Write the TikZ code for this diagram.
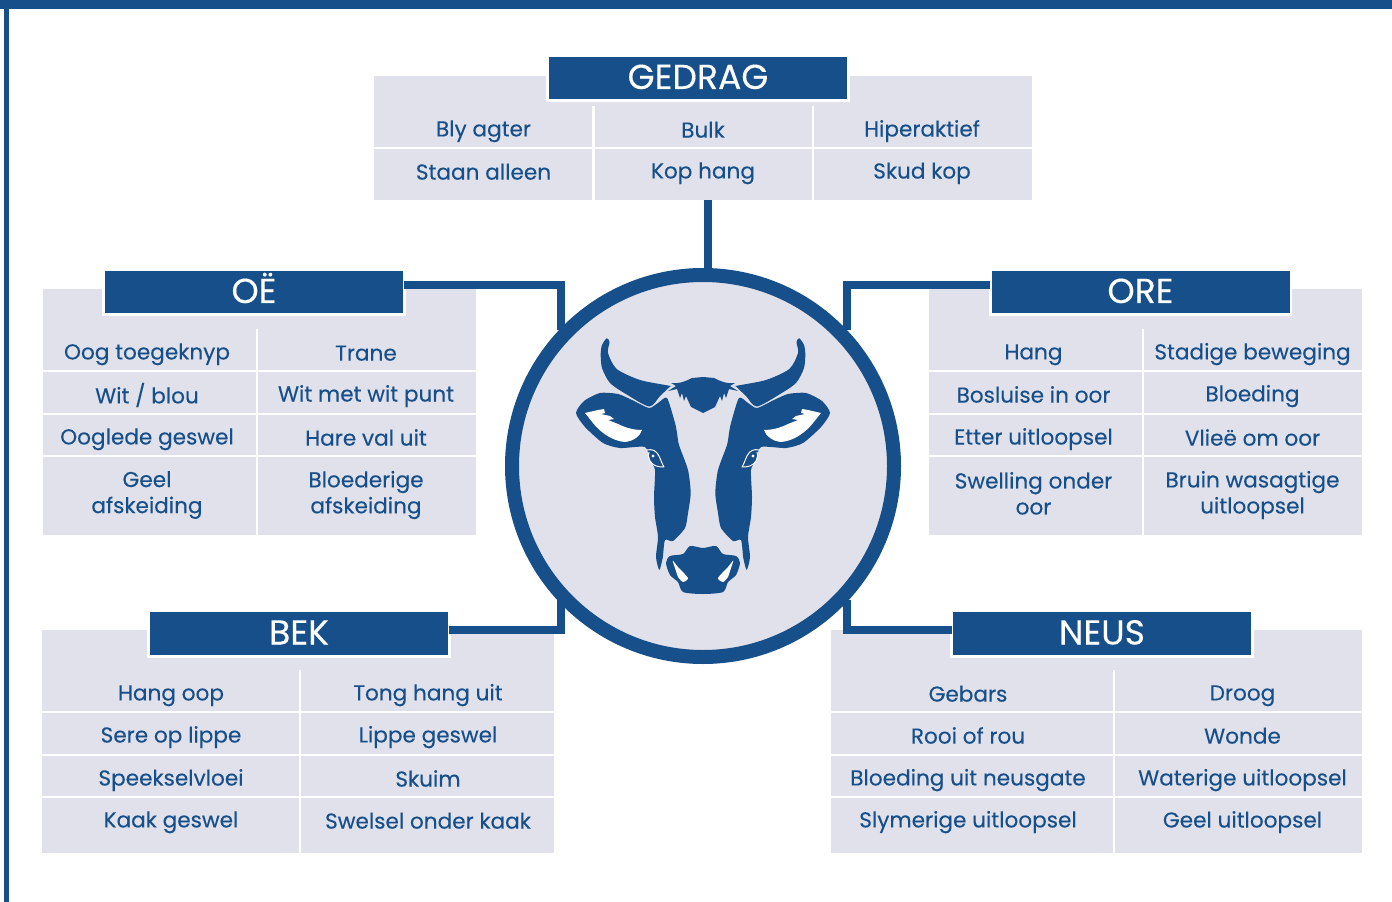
\documentclass[tikz,border=0pt]{standalone}
\usepackage{fontspec}
\setmainfont{Poppins}[FakeBold=0.25]
\definecolor{cowblue}{HTML}{174F8A}
\definecolor{panel}{HTML}{E1E1EC}
\tikzset{
  x=0.75pt,y=-0.75pt,
  panelbox/.style={fill=panel,draw=none,inner sep=0,outer sep=0},
  headbox/.style={fill=cowblue,draw=white,line width=2.2pt,inner sep=0,outer sep=0,minimum width=225.7pt,minimum height=34pt,text=white,font=\fontsize{26}{28}\selectfont,text height=16.5pt,text depth=0pt},
  cell/.style={text=cowblue,align=center,inner sep=0,font=\fontsize{16.2}{19.5}\selectfont,
    execute at begin node={\rule{0pt}{14pt}},execute at end node={\rule[-2.6pt]{0pt}{2.6pt}}},
  sep/.style={draw=white,line width=2.2pt},
  link/.style={draw=cowblue,line width=6pt},
  cowshape/.style={fill=cowblue,draw=none},
  cowwhite/.style={fill=white,draw=none},
}
\newcommand{\cowhalf}{%
  % horn
  \path[cowshape] plot[smooth cycle,tension=0.45] coordinates {(606.7,338.3)(609.5,342)(608,353)(616.7,369)(640,380)(669,385.7)(670,386.5)(660,396)(649.3,406.5)(626.7,394.5)(610,383)(602,368)(600.7,354)(602,345)};
  % ear and side of the face
  \path[cowshape] plot[smooth cycle,tension=0.4] coordinates {(649,408)(632,400)(618,394)(600,393)(584,401)(576,413)(585,427)(603,443)(620,448)(645,447)(650,460)(655,470)(654,497)(655,517)(658,537)(656,557)(659.3,570)(662.7,558)(665,540)(673,541)(685,528)(688,513)(690.7,493)(688,470)(679,445)(677,433)(675,423)(667,398)(658,403)};
  % white of the ear
  \path[cowwhite,line join=round] (585,413) -- (598,410) -- (604,409) -- (605,413) -- (601,414) -- (610,416) -- (614,419) -- (608,420) -- (618,424) .. controls (626,428) and (634,430) .. (642,430) .. controls (640,436) and (634,441) .. (625,442) .. controls (612,441) and (600,432) .. (593,423) -- cycle;
  % eye
  \draw[white,line width=0.75pt,line join=round] (646.7,450) .. controls (652,449) and (656,450) .. (659,456) .. controls (661,460) and (662,464) .. (664,467) .. controls (658,467) and (653,466) .. (650,461) .. controls (648,457) and (648,454) .. (649,452);
  \fill[white] (653,456) circle (1.6);
  % forelock
  \path[cowshape,line join=round] (703,377) -- (692,378) .. controls (686,381) and (680,384) .. (671,383) -- (676,386) -- (668,391) -- (677,389) -- (680,398) -- (682,393) -- (684,401) -- (686,396) -- (691,407) -- (703,413) -- cycle;
}
\begin{document}
\begin{tikzpicture}
\useasboundingbox (0,0) rectangle (1392,902);
\fill[white] (0,0) rectangle (1392,902);
% page edge
\fill[cowblue] (0,0) rectangle (1392,9);
\fill[cowblue] (3.5,9) rectangle (9,902);

% panels
\node[panelbox,minimum width=493.5pt,minimum height=93pt] (gedragpanel) at (703,138) {};
\node[panelbox,minimum width=324.75pt,minimum height=184.5pt] (oepanel) at (259.5,412) {};
\node[panelbox,minimum width=324.75pt,minimum height=184.5pt] (orepanel) at (1145.5,412) {};
\node[panelbox,minimum width=384pt,minimum height=167.25pt] (bekpanel) at (298,741.5) {};
\node[panelbox,minimum width=398.25pt,minimum height=167.25pt] (neuspanel) at (1096.5,741.5) {};

% separators
\draw[sep] (374,148) -- (1032,148) (593.5,106) -- (593.5,200) (813,106) -- (813,200);
\draw[sep] (43,371) -- (476,371) (43,414) -- (476,414) (43,456) -- (476,456) (257,329) -- (257,535);
\draw[sep] (929,371) -- (1362,371) (929,414) -- (1362,414) (929,456) -- (1362,456) (1143,329) -- (1143,535);
\draw[sep] (42,712) -- (554,712) (42,755) -- (554,755) (42,797) -- (554,797) (300,670) -- (300,853);
\draw[sep] (831,712) -- (1362,712) (831,755) -- (1362,755) (831,797) -- (1362,797) (1114,670) -- (1114,853);

% connectors' end points on the medallion
\coordinate (jointop) at (708,275);
\coordinate (jointoe) at (561,330);
\coordinate (jointore) at (847,330);
\coordinate (jointbek) at (561,600);
\coordinate (jointneus) at (847,600);

% headers
\node[headbox] (gedrag) at (698,78) {GEDRAG};
\node[headbox] (oe) at (254,292) {OË};
\node[headbox] (ore) at (1140.5,292) {ORE};
\node[headbox] (bek) at (299,633.5) {BEK};
\node[headbox] (neus) at (1102,633.5) {NEUS};

% connectors
\draw[link] (gedragpanel.south -| jointop) -- (jointop);
\draw[link] ([yshift=5.25pt]oe.east) -| (jointoe);
\draw[link] ([yshift=5.25pt]ore.west) -| (jointore);
\draw[link] ([yshift=3pt]bek.east) -| (jointbek);
\draw[link] ([yshift=3pt]neus.west) -| (jointneus);

% medallion
\node[circle,fill=panel,draw=cowblue,line width=10.5pt,minimum size=286.5pt,inner sep=0,outer sep=0] (cow) at (703,466) {};

% cow
\cowhalf
\begin{scope}[shift={(703,0)},xscale=-1,shift={(-703,0)}]
\cowhalf
\end{scope}
\path[cowshape] plot[smooth cycle,tension=0.45] coordinates {(703,548)(690,546)(683,554)(670,556)(666,563)(670,575)(678,582)(683,592)(703,594)(723,592)(728,582)(736,575)(740,563)(736,556)(723,554)(716,546)};
\path[cowwhite] plot[smooth cycle,tension=0.4] coordinates {(672.7,560.7)(678,567)(688,578)(683,582)(678,577)(676,571)};
\path[cowwhite] plot[smooth cycle,tension=0.4] coordinates {(733.3,560.7)(728,567)(718,578)(723,582)(728,577)(730,571)};

% GEDRAG
\node[cell] (g1) at (483.5,130) {Bly agter};
\node[cell] (g2) at (703,130) {Bulk};
\node[cell] (g3) at (922,130) {Hiperaktief};
\node[cell] (g4) at (483.5,172) {Staan alleen};
\node[cell] (g5) at (703,172) {Kop hang};
\node[cell] (g6) at (922,172) {Skud kop};
% OË
\node[cell] (o1) at (147,353) {Oog toegeknyp};
\node[cell] (o2) at (366,353) {Trane};
\node[cell] (o3) at (147,395) {Wit / blou};
\node[cell] (o4) at (366,395) {Wit met wit punt};
\node[cell] (o5) at (147,438) {Ooglede geswel};
\node[cell] (o6) at (366,438) {Hare val uit};
\node[cell] (o7) at (147,495) {Geel\\afskeiding};
\node[cell] (o8) at (366,495) {Bloederige\\afskeiding};
% ORE
\node[cell] (r1) at (1033.5,353) {Hang};
\node[cell] (r2) at (1252.5,353) {Stadige beweging};
\node[cell] (r3) at (1033.5,395) {Bosluise in oor};
\node[cell] (r4) at (1252.5,395) {Bloeding};
\node[cell] (r5) at (1033.5,438) {Etter uitloopsel};
\node[cell] (r6) at (1252.5,438) {Vlieë om oor};
\node[cell] (r7) at (1033.5,495) {Swelling onder\\oor};
\node[cell] (r8) at (1252.5,495) {Bruin wasagtige\\uitloopsel};
% BEK
\node[cell] (b1) at (171,694) {Hang oop};
\node[cell] (b2) at (428,694) {Tong hang uit};
\node[cell] (b3) at (171,736) {Sere op lippe};
\node[cell] (b4) at (428,736) {Lippe geswel};
\node[cell] (b5) at (171,779) {Speekselvloei};
\node[cell] (b6) at (428,779) {Skuim};
\node[cell] (b7) at (171,821) {Kaak geswel};
\node[cell] (b8) at (428,821) {Swelsel onder kaak};
% NEUS
\node[cell] (n1) at (968,694) {Gebars};
\node[cell] (n2) at (1242.5,694) {Droog};
\node[cell] (n3) at (968,736) {Rooi of rou};
\node[cell] (n4) at (1242.5,736) {Wonde};
\node[cell] (n5) at (968,779) {Bloeding uit neusgate};
\node[cell] (n6) at (1242.5,779) {Waterige uitloopsel};
\node[cell] (n7) at (968,821) {Slymerige uitloopsel};
\node[cell] (n8) at (1242.5,821) {Geel uitloopsel};
\end{tikzpicture}
\end{document}
